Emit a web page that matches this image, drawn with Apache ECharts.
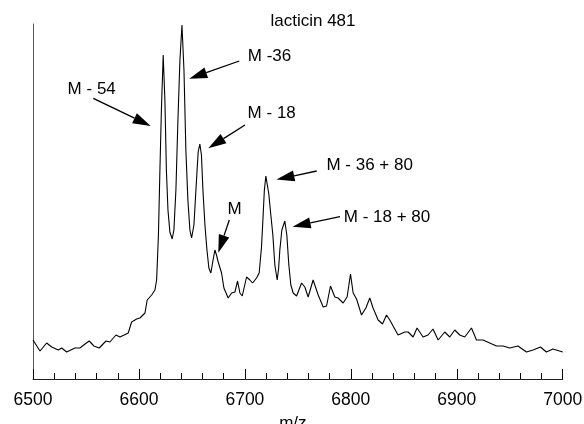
<!DOCTYPE html>
<html>
<head>
<meta charset="utf-8">
<script src="https://cdn.jsdelivr.net/npm/echarts@6/dist/echarts.min.js"></script>
<style>html,body{margin:0;padding:0;background:#fff;}#c{width:584px;height:424px;}</style>
</head>
<body>
<div id="c"></div>
<script>
const mz = [6500,6506.6,6512.9,6517.6,6523.9,6527.1,6531.8,6539.6,6544.3,6549.1,6553.1,6557.5,6562.5,6568.9,6572.6,6578.3,6582.1,6586.1,6589.9,6593.1,6597.8,6600.9,6605.7,6607.8,6612.0,6615.1,6616.7,6618.4,6619.8,6621.2,6622.9,6624.5,6625.9,6627.4,6629.2,6631.4,6633.0,6634.9,6636.8,6638.7,6640.6,6642.5,6644.3,6646.2,6648.1,6649.7,6651.9,6653.8,6655.9,6657.5,6659.0,6660.4,6662.3,6664.2,6666.0,6667.9,6669.8,6671.7,6673.2,6674.8,6678.0,6680.2,6684.2,6687.5,6690.6,6693.1,6695.3,6697.5,6701.6,6704.7,6707.3,6711.0,6713.5,6715.7,6717.0,6718.4,6719.8,6721.2,6722.6,6724.5,6726.4,6728.3,6730.5,6731.8,6733.0,6734.9,6737.7,6739.6,6741.5,6743.4,6745.6,6748.8,6753.5,6756.6,6759.7,6764.4,6769.2,6773.9,6777.1,6780.8,6784.9,6788.0,6789.6,6792.7,6796.5,6799.7,6802.2,6805.4,6810.1,6814.2,6817.9,6821.0,6825.8,6829.9,6833.7,6836.8,6839.9,6844.6,6850.9,6854.1,6858.8,6862.5,6868.2,6872.9,6877.6,6882.4,6888.7,6893.4,6898.1,6902.8,6907.5,6913.9,6918.6,6924.8,6931.1,6937.5,6943.7,6950.0,6957.8,6965.8,6972.0,6979.0,6984.6,6990.8,7000];
const intensity = [39,28,36,32,29,31,27,31,31,35,38,33,31,38,37,44,42,44,46,57,60,61,66,79,84,89,99,144,209,269,324,279,209,169,147,140,149,189,259,319,354,309,229,179,149,141,154,189,227,235,224,189,154,129,111,106,118,129,124,117,106,91,81,86,87,98,86,83,102,99,96,101,106,132,159,189,203,194,185,164,144,114,99,110,129,149,158,144,114,94,86,83,96,92,82,99,84,72,73,93,82,81,82,76,82,105,86,80,64,71,81,71,59,55,64,59,53,44,47,47,42,51,42,44,50,39,47,42,49,44,42,51,39,39,36,33,33,31,33,27,29,32,27,30,27];
const xTicks = [6500, 6600, 6700, 6800, 6900, 7000];
const title = 'lacticin 481';
const annotationLabels = ['M - 54', 'M -36', 'M - 18', 'M', 'M - 36 + 80', 'M - 18 + 80'];

const FONT = '"Liberation Sans", Arial, sans-serif';
const chart = echarts.init(document.getElementById('c'), null, {renderer: 'canvas'});

// annotation layout (pixels): text centre, arrow tail, arrow tip
const annLayout = [
  {t: [91.7, 89.5], a: [93.3, 98.3], b: [150.7, 126]},
  {t: [269.5, 56.7], a: [239.3, 61], b: [189.3, 78.7]},
  {t: [271.7, 113.3], a: [245, 125], b: [208.3, 148.3]},
  {t: [234.5, 209], a: [229.3, 220], b: [218.3, 252.7]},
  {t: [369.7, 165], a: [316.7, 171], b: [276.5, 179.5]},
  {t: [387, 217.8], a: [340, 216.7], b: [292.7, 226.7]}
];

const graphics = [];
graphics.push({type: 'text', x: 313, y: 21, style: {text: title, font: '17px ' + FONT, textAlign: 'center', textVerticalAlign: 'middle', fill: '#000'}});
annLayout.forEach((l, i) => {
  graphics.push({type: 'text', x: l.t[0], y: l.t[1], style: {text: annotationLabels[i], font: '17px ' + FONT, textAlign: 'center', textVerticalAlign: 'middle', fill: '#000'}});
  const dx = l.b[0] - l.a[0], dy = l.b[1] - l.a[1];
  const len = Math.sqrt(dx*dx + dy*dy);
  const ux = dx/len, uy = dy/len;
  const L = 18, W = 11;
  const bx = l.b[0] - ux*L, by = l.b[1] - uy*L;
  graphics.push({type: 'line', shape: {x1: l.a[0], y1: l.a[1], x2: bx, y2: by}, style: {stroke: '#000', lineWidth: 1.3}});
  graphics.push({type: 'polygon', shape: {points: [[l.b[0], l.b[1]], [bx - uy*W/2, by + ux*W/2], [bx + uy*W/2, by - ux*W/2]]}, style: {fill: '#000'}});
});

chart.setOption({
  animation: false,
  backgroundColor: '#fff',
  grid: {left: 33, right: 21.3, top: 24, bottom: 45, containLabel: false, outerBoundsMode: 'none'},
  xAxis: {
    type: 'value', min: 6500, max: 7000, interval: 100,
    name: 'm/z', nameLocation: 'middle', nameGap: 36,
    nameTextStyle: {fontSize: 17, fontFamily: FONT, color: '#000', padding: [0, 10, 0, 0]},
    axisLine: {show: true, onZero: false, lineStyle: {color: '#222', width: 1}},
    axisTick: {show: true, inside: true, length: 10, lineStyle: {color: '#000', width: 1}},
    minorTick: {show: true, splitNumber: 5, length: 6, lineStyle: {color: '#000', width: 1}},
    axisLabel: {fontSize: 17.5, fontFamily: FONT, color: '#000', margin: 12, showMaxLabel: true,
      formatter: v => xTicks.includes(v) ? String(v) : ''},
    splitLine: {show: false}
  },
  yAxis: {
    type: 'value', min: 0, max: 355,
    axisLine: {show: true, lineStyle: {color: '#555', width: 1}},
    axisTick: {show: false}, axisLabel: {show: false}, splitLine: {show: false}
  },
  series: [{
    type: 'line', data: mz.map((x, i) => [x, intensity[i]]),
    showSymbol: false, smooth: false,
    lineStyle: {color: '#000', width: 1.1}
  }],
  graphic: graphics
});
</script>
</body>
</html>
